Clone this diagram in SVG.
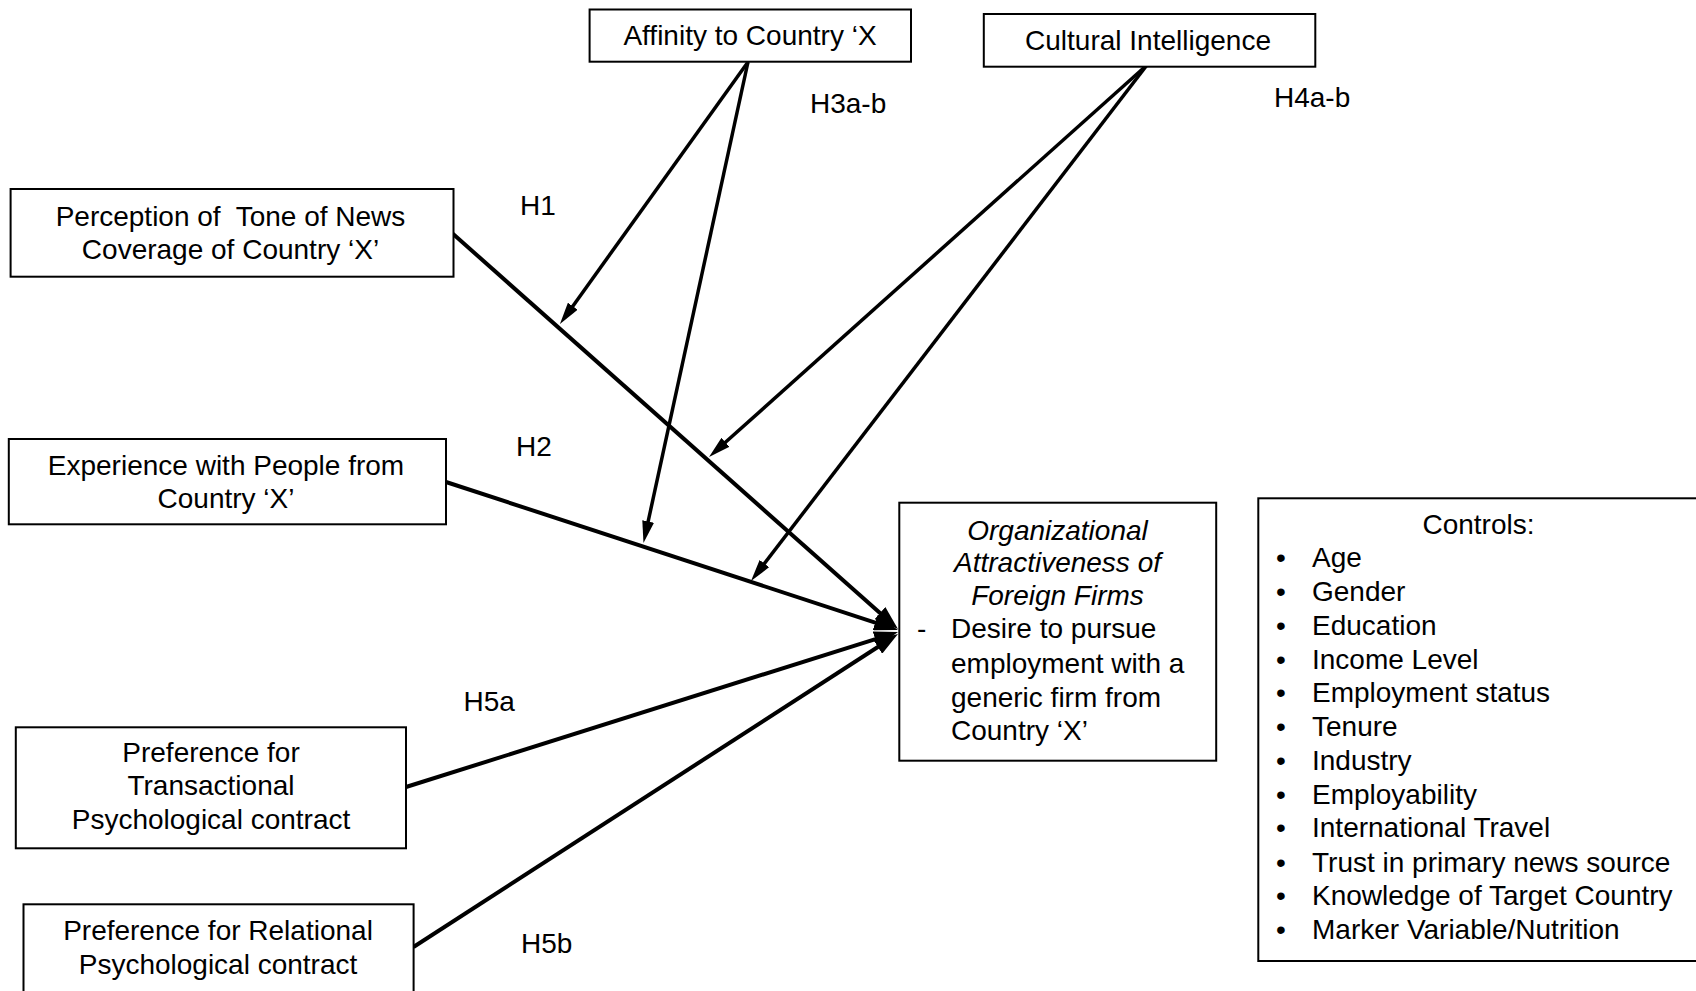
<svg xmlns="http://www.w3.org/2000/svg" width="1696" height="991" viewBox="0 0 1696 991">
<style>
  .box { fill: #ffffff; stroke: #000000; stroke-width: 2; }
  .t { font-family: "Liberation Sans", Arial, sans-serif; font-size: 28px; fill: #000000; }
  .c { text-anchor: middle; }
  .i { font-style: italic; }
  .main { stroke: #000000; stroke-width: 4; fill: none; marker-end: url(#bigArrow); }
  .mod { stroke: #000000; stroke-width: 3.5; fill: none; marker-end: url(#smallArrow); }
</style>
<defs>
  <marker id="bigArrow" markerUnits="userSpaceOnUse" markerWidth="24" markerHeight="16" refX="12" refY="8" orient="auto">
    <path d="M0,0 L24,8 L0,16 z" fill="#000000"/>
  </marker>
  <marker id="smallArrow" markerUnits="userSpaceOnUse" markerWidth="22" markerHeight="12" refX="12" refY="6" orient="auto">
    <path d="M0,0 L22,6 L0,12 z" fill="#000000"/>
  </marker>
</defs>
<rect width="1696" height="991" fill="#ffffff"/>

<g id="connectors">
  <line class="main" x1="452" y1="233" x2="889.0" y2="621.0"/>
  <line class="main" x1="446" y1="482" x2="886.6" y2="626.3"/>
  <line class="main" x1="406" y1="787" x2="886.6" y2="635.6"/>
  <line class="main" x1="413.5" y1="947" x2="887.9" y2="640.5"/>
  <line class="mod" x1="748" y1="62" x2="565.8" y2="315.9"/>
  <line class="mod" x1="748" y1="62" x2="645.6" y2="533.2"/>
  <line class="mod" x1="1147" y1="65" x2="716.5" y2="450.3"/>
  <line class="mod" x1="1147" y1="65" x2="757.1" y2="573.1"/>
</g>

<g id="labels">
  <text class="t" x="520" y="215">H1</text>
  <text class="t" x="516" y="456">H2</text>
  <text class="t" x="810" y="113">H3a-b</text>
  <text class="t" x="1274" y="107">H4a-b</text>
  <text class="t" x="463.5" y="711">H5a</text>
  <text class="t" x="521" y="953">H5b</text>
</g>

<g id="affinity">
  <rect class="box" x="589.6" y="9.5" width="321.4" height="52.2"/>
  <text class="t c" x="750" y="45">Affinity to Country ‘X</text>
</g>

<g id="cultural-intelligence">
  <rect class="box" x="983.8" y="14" width="331.5" height="52.7"/>
  <text class="t c" x="1148" y="50">Cultural Intelligence</text>
</g>

<g id="perception">
  <rect class="box" x="10.6" y="189" width="442.9" height="87.7"/>
  <text class="t c" x="230.5" y="226" style="white-space:pre">Perception of  Tone of News</text>
  <text class="t c" x="230.5" y="258.5">Coverage of Country ‘X’</text>
</g>

<g id="experience">
  <rect class="box" x="8.8" y="439" width="437.2" height="85.3"/>
  <text class="t c" x="226" y="475">Experience with People from</text>
  <text class="t c" x="226" y="507.5">Country ‘X’</text>
</g>

<g id="transactional">
  <rect class="box" x="15.8" y="727.3" width="390.2" height="121"/>
  <text class="t c" x="211" y="762">Preference for</text>
  <text class="t c" x="211" y="795">Transactional</text>
  <text class="t c" x="211" y="828.5">Psychological contract</text>
</g>

<g id="relational">
  <rect class="box" x="23.5" y="904.3" width="390.1" height="92"/>
  <text class="t c" x="218" y="940">Preference for Relational</text>
  <text class="t c" x="218" y="973.5">Psychological contract</text>
</g>

<g id="organizational-attractiveness">
  <rect class="box" x="899.3" y="502.7" width="316.9" height="258"/>
  <text class="t c i" x="1057.5" y="539.5">Organizational</text>
  <text class="t c i" x="1057.5" y="572">Attractiveness of</text>
  <text class="t c i" x="1057.5" y="605">Foreign Firms</text>
  <text class="t" x="917" y="638">-</text>
  <text class="t" x="951" y="638">Desire to pursue</text>
  <text class="t" x="951" y="672.5">employment with a</text>
  <text class="t" x="951" y="706.5">generic firm from</text>
  <text class="t" x="951" y="740">Country ‘X’</text>
</g>

<g id="controls">
  <rect class="box" x="1258.3" y="498.3" width="445" height="462.7"/>
  <text class="t c" x="1478.5" y="534">Controls:</text>
  <g class="t">
    <text x="1276" y="567.3">•</text><text x="1312" y="567.3">Age</text>
    <text x="1276" y="601">•</text><text x="1312" y="601">Gender</text>
    <text x="1276" y="634.5">•</text><text x="1312" y="634.5">Education</text>
    <text x="1276" y="668.5">•</text><text x="1312" y="668.5">Income Level</text>
    <text x="1276" y="702">•</text><text x="1312" y="702">Employment status</text>
    <text x="1276" y="735.5">•</text><text x="1312" y="735.5">Tenure</text>
    <text x="1276" y="770">•</text><text x="1312" y="770">Industry</text>
    <text x="1276" y="803.5">•</text><text x="1312" y="803.5">Employability</text>
    <text x="1276" y="837">•</text><text x="1312" y="837">International Travel</text>
    <text x="1276" y="871.5">•</text><text x="1312" y="871.5">Trust in primary news source</text>
    <text x="1276" y="905">•</text><text x="1312" y="905">Knowledge of Target Country</text>
    <text x="1276" y="938.5">•</text><text x="1312" y="938.5">Marker Variable/Nutrition</text>
  </g>
</g>
</svg>
